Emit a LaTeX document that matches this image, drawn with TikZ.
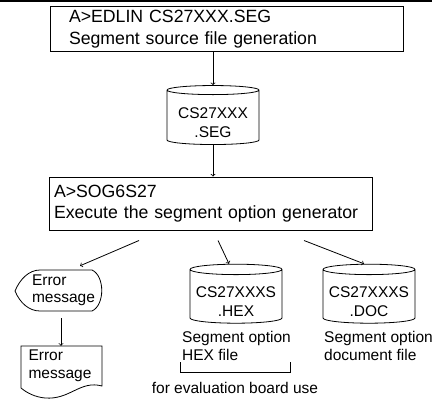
\documentclass[tikz,border=0pt]{standalone}
\usepackage{fontspec}
\setmainfont{Liberation Sans}
\usetikzlibrary{shapes.geometric}
\tikzstyle{cmdbox} = [rectangle, draw=black, line width=1pt, align=left, font=\fontsize{17.7}{21.5}\selectfont]
\tikzstyle{disk} = [cylinder, shape border rotate=90, draw=black, line width=0.8pt, aspect=0.13, minimum width=92pt, minimum height=59pt, inner sep=0pt, align=center, text height=40pt, text depth=0pt, font=\fontsize{15.5}{19}\selectfont]
\tikzstyle{note} = [align=left, inner sep=0pt, font=\fontsize{15.5}{17.5}\selectfont]
\tikzstyle{arrow} = [line width=0.8pt, ->, >=to]
\tikzstyle{line} = [line width=0.8pt, -]

\begin{document}
\begin{tikzpicture}[x=1pt,y=-1pt]
    \useasboundingbox (0,0) rectangle (444,401);
    \draw[line width=1.5pt] (0,1) -- (432,1);

    \node[cmdbox, minimum width=353pt, minimum height=44pt, text width=315pt, inner xsep=19pt] (edlin) at (226.5,29) {A>EDLIN CS27XXX.SEG\\Segment source file generation};
    \node[disk] (seg) at (213,117.5) {CS27XXX\\.SEG};
    \node[cmdbox, minimum width=323pt, minimum height=53pt, text width=313pt, inner xsep=5pt] (sog) at (210.5,203.5) {A>SOG6S27\\Execute the segment option generator};

    % outputs of the generator
    \node[note, text width=62pt, minimum height=41pt] (errdisp) at (63,290.5) {Error\\message};
    \draw[line] (15,291) .. controls (20,279) and (29,270) .. (40,270) -- (92,270)
        .. controls (105,276) and (105,305) .. (92,311) -- (40,311)
        .. controls (29,311) and (20,303) .. (15,291) -- cycle;
    \node[note, text width=67pt, minimum height=40pt] (errdoc) at (62,366) {Error\\message};
    \draw[line] (21,388) -- (21,346) -- (102,346) -- (102,386)
        .. controls (80,380) and (70,400) .. (45,398) .. controls (35,397) and (27,393) .. (21,388);

    \node[disk] (hex) at (236,296.5) {CS27XXXS\\.HEX};
    \node[disk] (doc) at (369,296.5) {CS27XXXS\\.DOC};
    \node[note, anchor=west] (hexnote) at (182,346) {Segment option\\HEX file};
    \node[note, anchor=west] (docnote) at (324,346) {Segment option\\document file};
    \draw[line] (180,362) -- (180,372) -- (290,372) -- (290,362);
    \node[note] (evaluse) at (235,388) {for evaluation board use};

    \draw[arrow] (edlin.south -| seg.north) -- (seg.north);
    \draw[arrow] (seg.south) -- (seg.south |- sog.north);
    \draw[arrow] ([xshift=-71.5pt,yshift=-10pt]sog.south) -- ([xshift=17pt,yshift=4pt]errdisp.north);
    \draw[arrow] ([xshift=7.5pt,yshift=-10pt]sog.south) -- ([xshift=-7pt]hex.north);
    \draw[arrow] ([xshift=93.5pt,yshift=-10pt]sog.south) -- ([xshift=-5pt]doc.north);
    \draw[arrow] ([xshift=-2pt,yshift=-7pt]errdisp.south) -- ([xshift=-1pt]errdoc.north);

\end{tikzpicture}
\end{document}
